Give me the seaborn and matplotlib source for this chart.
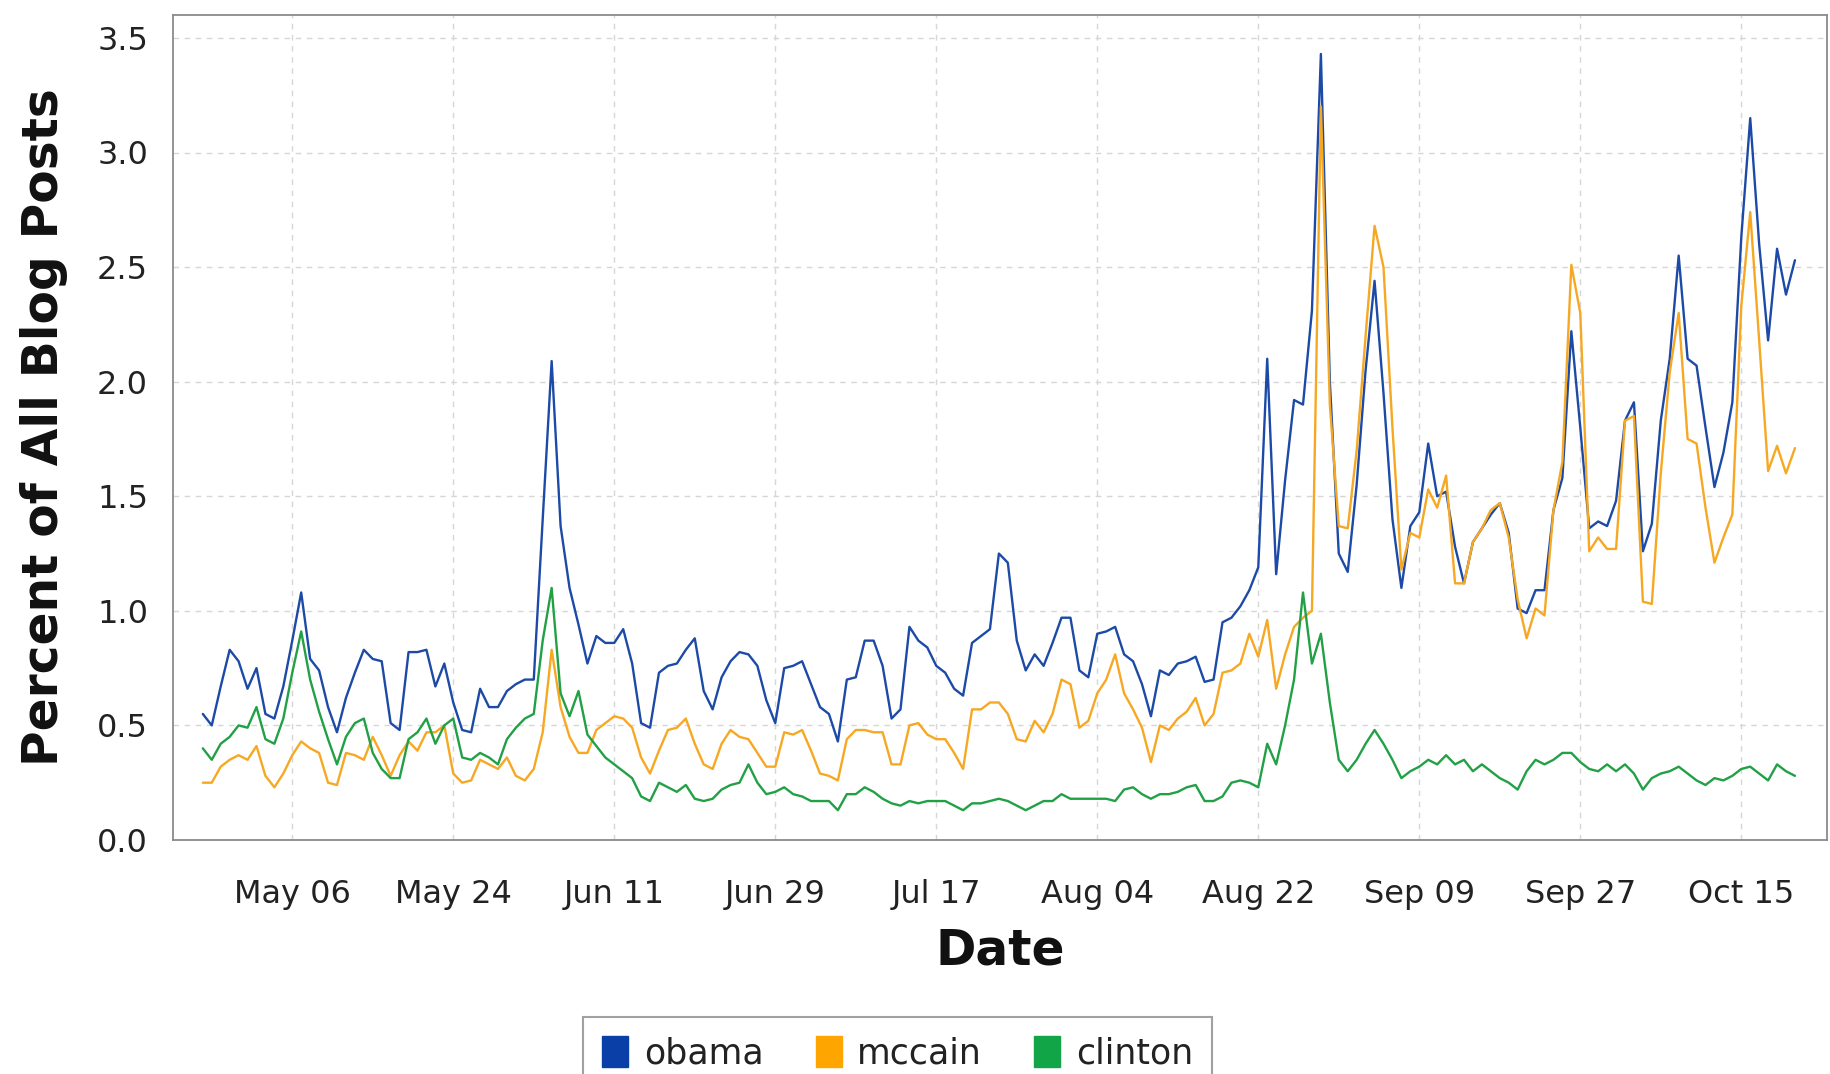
import numpy as np
import pandas as pd
import matplotlib
matplotlib.use("Agg")
import matplotlib.pyplot as plt
import matplotlib.dates as mdates
from matplotlib.patches import Patch
import seaborn as sns

start_date = "2008-04-26"

obama = [
    0.55, 0.50, 0.67, 0.83, 0.78, 0.66, 0.75, 0.55, 0.53, 0.67,
    0.87, 1.08, 0.79, 0.74, 0.58, 0.47, 0.62, 0.73, 0.83, 0.79,
    0.78, 0.51, 0.48, 0.82, 0.82, 0.83, 0.67, 0.77, 0.60, 0.48,
    0.47, 0.66, 0.58, 0.58, 0.65, 0.68, 0.70, 0.70, 1.40, 2.09,
    1.37, 1.10, 0.94, 0.77, 0.89, 0.86, 0.86, 0.92, 0.77, 0.51,
    0.49, 0.73, 0.76, 0.77, 0.83, 0.88, 0.65, 0.57, 0.71, 0.78,
    0.82, 0.81, 0.76, 0.61, 0.51, 0.75, 0.76, 0.78, 0.68, 0.58,
    0.55, 0.43, 0.70, 0.71, 0.87, 0.87, 0.76, 0.53, 0.57, 0.93,
    0.87, 0.84, 0.76, 0.73, 0.66, 0.63, 0.86, 0.89, 0.92, 1.25,
    1.21, 0.87, 0.74, 0.81, 0.76, 0.86, 0.97, 0.97, 0.74, 0.71,
    0.90, 0.91, 0.93, 0.81, 0.78, 0.68, 0.54, 0.74, 0.72, 0.77,
    0.78, 0.80, 0.69, 0.70, 0.95, 0.97, 1.02, 1.09, 1.19, 2.10,
    1.16, 1.57, 1.92, 1.90, 2.31, 3.43, 2.00, 1.25, 1.17, 1.55,
    2.05, 2.44, 1.95, 1.40, 1.10, 1.37, 1.43, 1.73, 1.50, 1.52,
    1.28, 1.12, 1.30, 1.36, 1.42, 1.47, 1.34, 1.01, 0.99, 1.09,
    1.09, 1.44, 1.58, 2.22, 1.80, 1.36, 1.39, 1.37, 1.48, 1.83,
    1.91, 1.26, 1.38, 1.83, 2.10, 2.55, 2.10, 2.07, 1.80, 1.54,
    1.69, 1.91, 2.63, 3.15, 2.60, 2.18, 2.58, 2.38, 2.53,
]

mccain = [
    0.25, 0.25, 0.32, 0.35, 0.37, 0.35, 0.41, 0.28, 0.23, 0.29,
    0.37, 0.43, 0.40, 0.38, 0.25, 0.24, 0.38, 0.37, 0.35, 0.45,
    0.37, 0.28, 0.37, 0.43, 0.39, 0.47, 0.47, 0.50, 0.29, 0.25,
    0.26, 0.35, 0.33, 0.31, 0.36, 0.28, 0.26, 0.31, 0.47, 0.83,
    0.58, 0.45, 0.38, 0.38, 0.48, 0.51, 0.54, 0.53, 0.49, 0.36,
    0.29, 0.39, 0.48, 0.49, 0.53, 0.42, 0.33, 0.31, 0.42, 0.48,
    0.45, 0.44, 0.38, 0.32, 0.32, 0.47, 0.46, 0.48, 0.39, 0.29,
    0.28, 0.26, 0.44, 0.48, 0.48, 0.47, 0.47, 0.33, 0.33, 0.50,
    0.51, 0.46, 0.44, 0.44, 0.38, 0.31, 0.57, 0.57, 0.60, 0.60,
    0.55, 0.44, 0.43, 0.52, 0.47, 0.55, 0.70, 0.68, 0.49, 0.52,
    0.64, 0.70, 0.81, 0.64, 0.57, 0.49, 0.34, 0.50, 0.48, 0.53,
    0.56, 0.62, 0.50, 0.55, 0.73, 0.74, 0.77, 0.90, 0.80, 0.96,
    0.66, 0.81, 0.93, 0.97, 1.00, 3.20, 1.90, 1.37, 1.36, 1.70,
    2.20, 2.68, 2.50, 1.80, 1.18, 1.34, 1.32, 1.53, 1.45, 1.59,
    1.12, 1.12, 1.30, 1.36, 1.44, 1.47, 1.32, 1.05, 0.88, 1.01,
    0.98, 1.44, 1.65, 2.51, 2.30, 1.26, 1.32, 1.27, 1.27, 1.83,
    1.85, 1.04, 1.03, 1.60, 2.04, 2.30, 1.75, 1.73, 1.45, 1.21,
    1.32, 1.42, 2.33, 2.74, 2.18, 1.61, 1.72, 1.60, 1.71,
]

clinton = [
    0.40, 0.35, 0.42, 0.45, 0.50, 0.49, 0.58, 0.44, 0.42, 0.53,
    0.73, 0.91, 0.70, 0.56, 0.44, 0.33, 0.45, 0.51, 0.53, 0.38,
    0.31, 0.27, 0.27, 0.44, 0.47, 0.53, 0.42, 0.50, 0.53, 0.36,
    0.35, 0.38, 0.36, 0.33, 0.44, 0.49, 0.53, 0.55, 0.87, 1.10,
    0.64, 0.54, 0.65, 0.46, 0.41, 0.36, 0.33, 0.30, 0.27, 0.19,
    0.17, 0.25, 0.23, 0.21, 0.24, 0.18, 0.17, 0.18, 0.22, 0.24,
    0.25, 0.33, 0.25, 0.20, 0.21, 0.23, 0.20, 0.19, 0.17, 0.17,
    0.17, 0.13, 0.20, 0.20, 0.23, 0.21, 0.18, 0.16, 0.15, 0.17,
    0.16, 0.17, 0.17, 0.17, 0.15, 0.13, 0.16, 0.16, 0.17, 0.18,
    0.17, 0.15, 0.13, 0.15, 0.17, 0.17, 0.20, 0.18, 0.18, 0.18,
    0.18, 0.18, 0.17, 0.22, 0.23, 0.20, 0.18, 0.20, 0.20, 0.21,
    0.23, 0.24, 0.17, 0.17, 0.19, 0.25, 0.26, 0.25, 0.23, 0.42,
    0.33, 0.50, 0.70, 1.08, 0.77, 0.90, 0.60, 0.35, 0.30, 0.35,
    0.42, 0.48, 0.42, 0.35, 0.27, 0.30, 0.32, 0.35, 0.33, 0.37,
    0.33, 0.35, 0.30, 0.33, 0.30, 0.27, 0.25, 0.22, 0.30, 0.35,
    0.33, 0.35, 0.38, 0.38, 0.34, 0.31, 0.30, 0.33, 0.30, 0.33,
    0.29, 0.22, 0.27, 0.29, 0.30, 0.32, 0.29, 0.26, 0.24, 0.27,
    0.26, 0.28, 0.31, 0.32, 0.29, 0.26, 0.33, 0.30, 0.28,
]

series_names = ["obama", "mccain", "clinton"]
series_colors = ["#1c4aa6", "#f7a823", "#22a046"]
y_ticks = [0.0, 0.5, 1.0, 1.5, 2.0, 2.5, 3.0, 3.5]
x_tick_labels = ["May 06", "May 24", "Jun 11", "Jun 29", "Jul 17",
                 "Aug 04", "Aug 22", "Sep 09", "Sep 27", "Oct 15"]

dates = pd.date_range(start_date, periods=len(obama), freq="D")
df = pd.concat([
    pd.DataFrame({"Date": dates, "value": vals, "candidate": name})
    for name, vals in zip(series_names, [obama, mccain, clinton])
], ignore_index=True)

sns.set_style("white")
plt.rcParams["font.family"] = ["DejaVu Sans"]

fig = plt.figure(figsize=(18.3, 10.74), dpi=100)
ax = fig.add_axes([173 / 1830, 1 - 840 / 1074, (1827 - 173) / 1830, (840 - 15) / 1074])

sns.lineplot(data=df, x="Date", y="value", hue="candidate",
             palette=dict(zip(series_names, series_colors)),
             hue_order=series_names, linewidth=1.7, legend=False, ax=ax)

ax.set_ylim(0, 3.6)
ax.set_xlim(pd.Timestamp("2008-04-22 16:00"), pd.Timestamp("2008-10-24 14:00"))
ax.set_yticks(y_ticks)
ax.set_yticklabels([f"{v:.1f}" for v in y_ticks])
tick_dates = pd.date_range("2008-05-06", periods=len(x_tick_labels), freq="18D")
ax.set_xticks(tick_dates)
ax.set_xticklabels(x_tick_labels)

ax.grid(True, color="#d6d6d6", linestyle=(0, (4, 4)), linewidth=1.0)
for s in ax.spines.values():
    s.set_color("#8a8a8a")
    s.set_linewidth(1.3)
ax.tick_params(axis="both", which="major", direction="out", length=6, width=1.2,
               color="#8a8a8a", labelcolor="#222222")
ax.tick_params(axis="y", labelsize=23, pad=12)
ax.tick_params(axis="x", labelsize=23, pad=22)

ax.set_ylabel("Percent of All Blog Posts", fontsize=35, fontweight="bold",
              color="#111111", va="center")
ax.yaxis.set_label_coords(-0.078, 0.5)
ax.set_xlabel("Date", fontsize=35, fontweight="bold", color="#111111", va="center")
ax.xaxis.set_label_coords(0.5, -0.134)

handles = [Patch(facecolor=c, edgecolor=c, label=n)
           for n, c in zip(series_names, ["#0b3fa8", "#ffa500", "#12a548"])]
leg = fig.legend(handles=handles, loc="upper center", bbox_to_anchor=(0.4905, 1 - 1017 / 1074),
                 ncol=3, fontsize=25, frameon=True, fancybox=False,
                 handlelength=0.75, handleheight=1.0, handletextpad=0.45,
                 columnspacing=1.5, borderpad=0.55, borderaxespad=0)
leg.get_frame().set_edgecolor("#8a8a8a")
leg.get_frame().set_linewidth(1.5)
for t in leg.get_texts():
    t.set_color("#222222")

fig.savefig("out.png", dpi=100, facecolor="white")
